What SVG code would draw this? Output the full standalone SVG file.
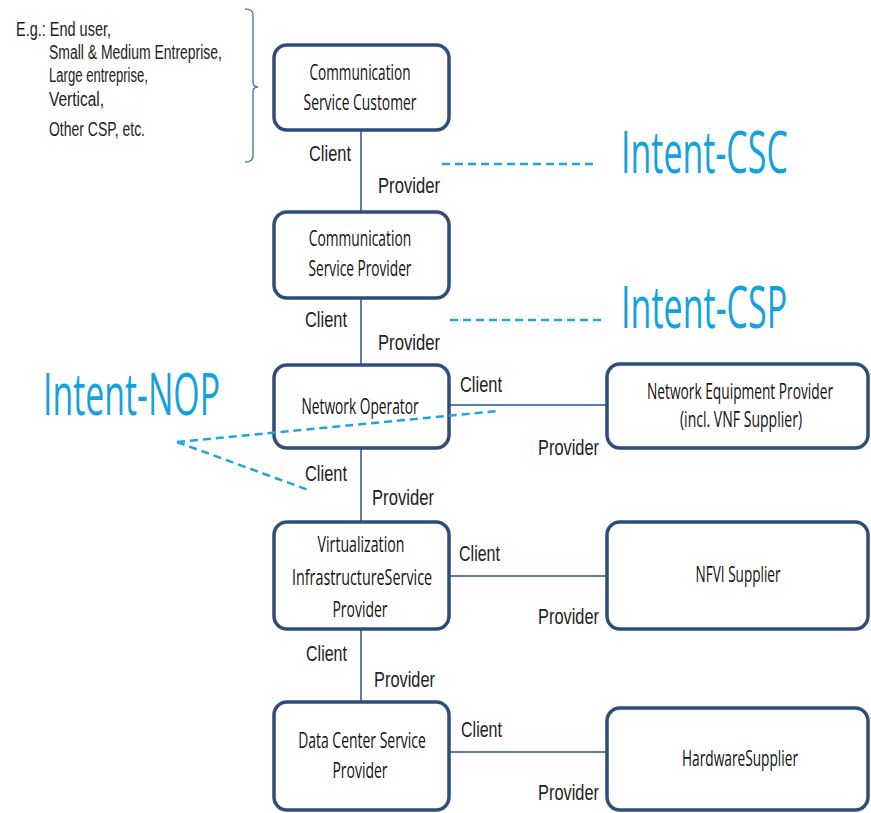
<svg xmlns="http://www.w3.org/2000/svg" width="871" height="813" viewBox="0 0 871 813">
<style>
.box{fill:#ffffff;stroke:#2f4d7c;stroke-width:3.5}
.bt{font-family:"Open Sans","Noto Sans",sans-serif;font-size:21px;fill:#111111;text-anchor:middle}
.lbl{font-family:"Liberation Sans",Arial,sans-serif;font-size:22px;fill:#222222}
.note{font-family:"Liberation Sans",Arial,sans-serif;font-size:20px;fill:#222222}
.conn{stroke:#5b7db1;stroke-width:2;fill:none}
.dash{stroke:#1ea5df;stroke-width:2.5;stroke-dasharray:8 5;fill:none}
.intent{font-family:"Open Sans","Noto Sans",sans-serif;font-size:58px;fill:#14a2de}
</style>
<rect width="871" height="813" fill="#ffffff"/>

<g id="connectors">
<line class="conn" x1="361" y1="130" x2="361" y2="212"/>
<line class="conn" x1="361" y1="298" x2="361" y2="365"/>
<line class="conn" x1="361" y1="448" x2="361" y2="522"/>
<line class="conn" x1="361" y1="629" x2="361" y2="702"/>
<line class="conn" x1="449" y1="405" x2="607" y2="405"/>
<line class="conn" x1="449" y1="576" x2="607" y2="576"/>
<line class="conn" x1="449" y1="752" x2="607" y2="752"/>
<text class="lbl" x="309" y="161" textLength="42" lengthAdjust="spacingAndGlyphs">Client</text>
<text class="lbl" x="378" y="193" textLength="62" lengthAdjust="spacingAndGlyphs">Provider</text>
<text class="lbl" x="305" y="327" textLength="42" lengthAdjust="spacingAndGlyphs">Client</text>
<text class="lbl" x="378" y="350" textLength="62" lengthAdjust="spacingAndGlyphs">Provider</text>
<text class="lbl" x="460" y="392" textLength="42" lengthAdjust="spacingAndGlyphs">Client</text>
<text class="lbl" x="538" y="455" textLength="61" lengthAdjust="spacingAndGlyphs">Provider</text>
<text class="lbl" x="305" y="481" textLength="42" lengthAdjust="spacingAndGlyphs">Client</text>
<text class="lbl" x="372" y="505" textLength="62" lengthAdjust="spacingAndGlyphs">Provider</text>
<text class="lbl" x="459" y="561" textLength="41" lengthAdjust="spacingAndGlyphs">Client</text>
<text class="lbl" x="538" y="624" textLength="61" lengthAdjust="spacingAndGlyphs">Provider</text>
<text class="lbl" x="306" y="661" textLength="41" lengthAdjust="spacingAndGlyphs">Client</text>
<text class="lbl" x="374" y="687" textLength="61" lengthAdjust="spacingAndGlyphs">Provider</text>
<text class="lbl" x="461" y="737" textLength="41" lengthAdjust="spacingAndGlyphs">Client</text>
<text class="lbl" x="538" y="800" textLength="61" lengthAdjust="spacingAndGlyphs">Provider</text>
</g>

<g id="bracket">
<path d="M245,9 Q253,9 253,15 L253,82 Q253,87 258,87 Q253,87 253,92 L253,156 Q253,162 245,162" stroke="#5b7db1" stroke-width="1.5" fill="none"/>
</g>

<g id="examples">
<text class="note" x="16" y="36" textLength="95" lengthAdjust="spacingAndGlyphs">E.g.: End user,</text>
<text class="note" x="49" y="59" textLength="173" lengthAdjust="spacingAndGlyphs">Small &amp; Medium Entreprise,</text>
<text class="note" x="49" y="82" textLength="99" lengthAdjust="spacingAndGlyphs">Large entreprise,</text>
<text class="note" x="49" y="106" textLength="55" lengthAdjust="spacingAndGlyphs">Vertical,</text>
<text class="note" x="49" y="136" textLength="96" lengthAdjust="spacingAndGlyphs">Other CSP, etc.</text>
</g>

<g id="csc">
<rect class="box" x="274" y="45" width="175" height="85" rx="13"/>
<text class="bt" transform="translate(360,80) scale(0.62,1)" textLength="163" lengthAdjust="spacingAndGlyphs">Communication</text>
<text class="bt" transform="translate(360,110) scale(0.62,1)" textLength="182" lengthAdjust="spacingAndGlyphs">Service Customer</text>
</g>

<g id="csp">
<rect class="box" x="274" y="212" width="175" height="86" rx="13"/>
<text class="bt" transform="translate(360,246) scale(0.62,1)" textLength="165" lengthAdjust="spacingAndGlyphs">Communication</text>
<text class="bt" transform="translate(360,276) scale(0.62,1)" textLength="166" lengthAdjust="spacingAndGlyphs">Service Provider</text>
</g>

<g id="no">
<rect class="box" x="274" y="365" width="175" height="83" rx="13"/>
<text class="bt" transform="translate(360,414) scale(0.62,1)" textLength="189" lengthAdjust="spacingAndGlyphs">Network Operator</text>
</g>

<g id="visp">
<rect class="box" x="274" y="522" width="175" height="107" rx="13"/>
<text class="bt" transform="translate(361,552) scale(0.62,1)" textLength="140" lengthAdjust="spacingAndGlyphs">Virtualization</text>
<text class="bt" transform="translate(362,585) scale(0.62,1)" textLength="226" lengthAdjust="spacingAndGlyphs">InfrastructureService</text>
<text class="bt" transform="translate(360,617) scale(0.62,1)" textLength="89" lengthAdjust="spacingAndGlyphs">Provider</text>
</g>

<g id="dcsp">
<rect class="box" x="274" y="702" width="175" height="108" rx="13"/>
<text class="bt" transform="translate(362,748) scale(0.62,1)" textLength="206" lengthAdjust="spacingAndGlyphs">Data Center Service</text>
<text class="bt" transform="translate(360,778) scale(0.62,1)" textLength="89" lengthAdjust="spacingAndGlyphs">Provider</text>
</g>

<g id="nep">
<rect class="box" x="607" y="364" width="261" height="84" rx="13"/>
<text class="bt" transform="translate(740,399) scale(0.62,1)" textLength="300" lengthAdjust="spacingAndGlyphs">Network Equipment  Provider</text>
<text class="bt" transform="translate(741,427) scale(0.62,1)" textLength="197" lengthAdjust="spacingAndGlyphs">(incl. VNF Supplier)</text>
</g>

<g id="nfvi">
<rect class="box" x="607" y="522" width="261" height="107" rx="13"/>
<text class="bt" transform="translate(738,582) scale(0.62,1)" textLength="137" lengthAdjust="spacingAndGlyphs">NFVI Supplier</text>
</g>

<g id="hw">
<rect class="box" x="607" y="708" width="261" height="102" rx="13"/>
<text class="bt" transform="translate(740,766) scale(0.62,1)" textLength="187" lengthAdjust="spacingAndGlyphs">HardwareSupplier</text>
</g>

<g id="intents">
<line class="dash" x1="442" y1="164" x2="593" y2="164"/>
<line class="dash" x1="450" y1="320" x2="602" y2="320"/>
<line class="dash" x1="177" y1="442" x2="497" y2="411"/>
<line class="dash" x1="177" y1="442" x2="311" y2="491"/>
<text class="intent" transform="translate(621,173) scale(0.6,1)" textLength="278" lengthAdjust="spacingAndGlyphs">Intent-CSC</text>
<text class="intent" transform="translate(621,328) scale(0.6,1)" textLength="277" lengthAdjust="spacingAndGlyphs">Intent-CSP</text>
<text class="intent" transform="translate(43,415) scale(0.6,1)" textLength="295" lengthAdjust="spacingAndGlyphs">Intent-NOP</text>
</g>
</svg>
